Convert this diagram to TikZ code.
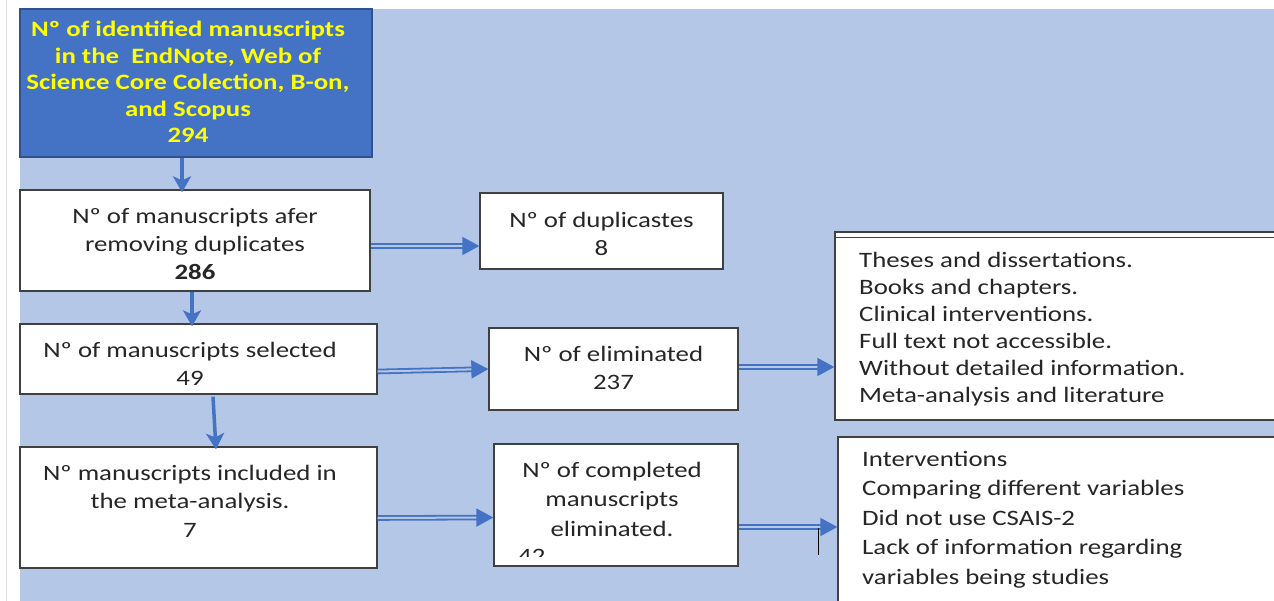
\documentclass[tikz,border=0pt]{standalone}
\usepackage{fontspec}
\setmainfont{Carlito}[FakeStretch=1.22]
\usetikzlibrary{arrows.meta,calc}
\definecolor{bgblue}{HTML}{B4C7E7}
\definecolor{topblue}{HTML}{4472C4}
\definecolor{topedge}{HTML}{2F528F}
\definecolor{arrblue}{HTML}{4472C4}
\definecolor{edgegray}{HTML}{404040}
\definecolor{txtyellow}{HTML}{FFFF00}
\definecolor{txtdark}{HTML}{262626}
\begin{document}
\begin{tikzpicture}[x=1pt,y=-1pt,
  box/.style={draw=edgegray, line width=1.3pt, fill=white, inner sep=0pt},
  boxtext/.style={font=\fontsize{22}{28}\selectfont, align=center, text=txtdark, inner sep=0pt},
  listtext/.style={font=\fontsize{22}{27}\selectfont, align=left, text=txtdark, inner sep=0pt, anchor=north west},
  varrow/.style={draw=arrblue, line width=3.5pt, -{Stealth[length=16pt,width=18pt,inset=4pt]}},
  darrow/.style={draw=arrblue, line width=1.8pt, double=bgblue, double distance=2pt, -{Triangle[length=17pt,width=18pt]}},
]
\useasboundingbox (0,0) rectangle (1274,601);
\fill[white] (0,0) rectangle (1274,601);
\draw[black!12, line width=1pt] (6.5,0) -- (6.5,601);
\fill[bgblue] (20,9) rectangle (1274,601);

% left column
\node[draw=topedge, line width=1.8pt, fill=topblue, inner sep=0pt, minimum width=352pt, minimum height=148pt] (top) at (196,83) {};
\node[font=\bfseries\fontsize{22}{26.5}\selectfont, text=txtyellow, align=center, inner sep=0pt] (toptxt) at (188,82)
  {Nº of identified manuscripts\\ in the\ \ EndNote, Web of\\ Science Core Colection, B-on,\\ and Scopus\\ 294};

\node[box, minimum width=350pt, minimum height=101pt] (b2) at (195,240.5) {};
\node[boxtext] (b2t) at (195,244) {Nº of manuscripts afer\\ removing duplicates\\ \textbf{286}};

\node[box, minimum width=357pt, minimum height=70pt] (b3) at (198.5,359) {};
\node[boxtext] (b3t) at (190,364) {Nº of manuscripts selected\\ 49};

\node[box, minimum width=357pt, minimum height=121pt] (b4) at (198.5,507.5) {};
\node[boxtext, font=\fontsize{22}{28.5}\selectfont] (b4t) at (190,501) {Nº manuscripts included in\\ the meta-analysis.\\ 7};

% middle column
\node[box, minimum width=243pt, minimum height=76pt] (dup) at (601.5,231) {};
\node[boxtext] (dupt) at (601.5,234) {Nº of duplicastes\\ 8};

\node[box, minimum width=249pt, minimum height=82pt] (elim) at (613.5,369) {};
\node[boxtext] (elimt) at (613.5,368) {Nº of eliminated\\ 237};

\node[box, minimum width=244pt, minimum height=122pt] (comp) at (616,505) {};
\node[boxtext, font=\fontsize{22}{29.5}\selectfont] (compt) at (612,499) {Nº of completed\\ manuscripts\\ eliminated.};
\begin{scope}
  \clip (495,445) rectangle (737,556);
  \node[boxtext, anchor=base west] (n42) at (518,563) {42};
\end{scope}

% right column
\begin{scope}
  \clip (0,0) rectangle (1274,601);
  \node[box, minimum width=455pt, minimum height=188pt] (r1) at (1062.5,326) {};
  \draw[edgegray, line width=1pt] (835,237.5) -- (1300,237.5);
  \node[listtext] (r1t) at (859,252.5) {Theses and dissertations.\\ Books and chapters.\\ Clinical interventions.\\ Full text not accessible.\\ Without detailed information.\\ Meta-analysis and literature};
  \node[box, minimum width=452pt, minimum height=183pt] (r2) at (1064,528.5) {};
  \node[listtext, font=\fontsize{22}{29.5}\selectfont] (r2t) at (862,451) {Interventions\\ Comparing different variables\\ Did not use CSAIS-2\\ Lack of information regarding\\ variables being studies};
\end{scope}

% vertical arrows
\draw[varrow] ($(top.south)+(-14,0)$) -- ($(b2.north)+(-13,3)$);
\draw[varrow] ($(b2.south)+(-3,0)$) -- ($(b3.north)+(-6.5,3)$);
\draw[varrow] ($(b3.south)+(14.5,2)$) -- ($(b4.north)+(17.5,3)$);

% double arrows
\draw[darrow] ($(b2.east)+(0,5.5)$) -- ($(dup.west)+(0,15)$);
\draw[darrow] ($(b3.east)+(0,12.5)$) -- ($(elim.west)+(0,0)$);
\draw[darrow] ($(elim.east)+(0,-2)$) -- ($(r1.west)+(0,41)$);
\draw[darrow] ($(b4.east)+(0,10.5)$) -- ($(comp.west)+(0,12.5)$);
\draw[darrow] ($(comp.east)+(0,22)$) -- ($(r2.west)+(0,-1.5)$);

% text cursor mark
\coordinate (cur1) at (818,528);
\coordinate (cur2) at (818,555);
\draw[black, line width=0.8pt] (cur1) -- (cur2);
\end{tikzpicture}
\end{document}
